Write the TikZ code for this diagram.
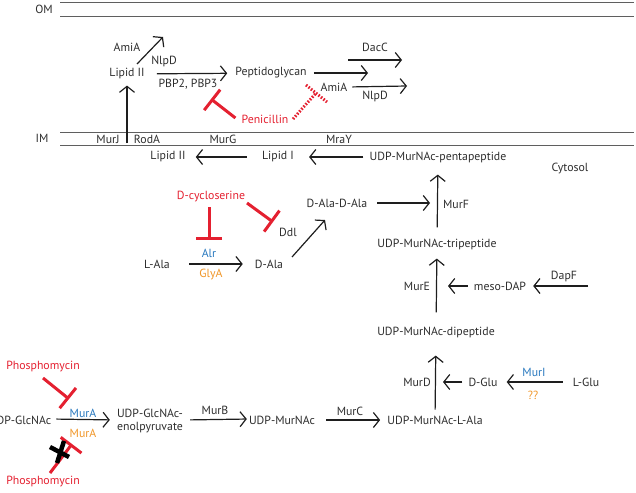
\documentclass[tikz,border=0pt]{standalone}
\usepackage{fontspec}
\setmainfont{PT Sans}
\usetikzlibrary{arrows.meta}
\definecolor{txt}{RGB}{45,45,45}
\definecolor{arrc}{RGB}{30,30,30}
\definecolor{memg}{RGB}{95,95,95}
\definecolor{inhred}{RGB}{228,32,48}
\definecolor{enzblue}{RGB}{40,120,190}
\definecolor{enzorange}{RGB}{240,150,40}
\tikzset{
  lbl/.style={inner sep=0pt, text=txt, font=\fontsize{11.8}{13}\selectfont},
  redlbl/.style={lbl, text=inhred},
  bluelbl/.style={lbl, text=enzblue},
  orangelbl/.style={lbl, text=enzorange},
  arr/.style={draw=arrc, line width=1.2pt, -{Straight Barb[length=6pt,width=15pt,line width=1.2pt]}},
  inh/.style={draw=inhred, line width=3pt, -{Bar[width=26pt,line width=3pt]}},
  inhbar/.style={draw=inhred, line width=3pt},
  mem/.style={draw=memg, line width=0.9pt},
}
\begin{document}
\begin{tikzpicture}[x=1pt,y=-1pt]
\useasboundingbox (0,0) rectangle (636,492);
% membranes
\draw[mem] (60,2) -- (634,2);
\draw[mem] (60,16) -- (634,16);
\draw[mem] (60,132) -- (634,132);
\draw[mem] (60,145) -- (634,145);
\node[lbl] (om) at (44,9) {OM};
\node[lbl] (im) at (42,138) {IM};
\node[lbl] (murj) at (108,139) {MurJ};
\node[lbl] (roda) at (147,139) {RodA};
\node[lbl] (murg) at (223,139) {MurG};
\node[lbl] (mray) at (339,139) {MraY};
% periplasm
\node[lbl] (lipIIa) at (127,74) {Lipid II};
\node[lbl] (amia1) at (127,47) {AmiA};
\node[lbl] (nlpd1) at (164,61) {NlpD};
\node[lbl] (pg) at (271,73) {Peptidoglycan};
\node[lbl] (pbp) at (188,84) {PBP2, PBP3};
\node[redlbl] (pen) at (265,119) {Penicillin};
\node[lbl] (dacc) at (375,47) {DacC};
\node[lbl] (amia2) at (334,87) {AmiA};
\node[lbl] (nlpd2) at (375,96) {NlpD};
\coordinate (flipS) at (127,143);
\coordinate (dgS) at (137,64);
\coordinate (dgE) at (163,37);
\coordinate (pgE) at (368,73);
\coordinate (dcS) at (348,60);
\coordinate (dcE) at (402,60);
\coordinate (amE) at (407,86);
\coordinate (penT) at (211,99);
\coordinate (dashS) at (293,119);
\coordinate (dashT) at (316,93);
\coordinate (dashB1) at (306,85);
\coordinate (dashB2) at (327,102);
\draw[arr] (flipS) -- ([yshift=-6pt]lipIIa.south);
\draw[arr] (dgS) -- (dgE);
\draw[arr, shorten <=12pt, shorten >=8pt] (lipIIa) -- (pg);
\draw[arr, shorten <=7pt] (pg.east) -- (pgE);
\draw[arr] (dcS) -- (dcE);
\draw[arr, shorten <=5pt] (amia2.east) -- (amE);
\draw[inh] ([xshift=-6pt,yshift=1pt]pen.west) -- (penT);
\draw[inhbar, dash pattern=on 1.6pt off 1.6pt] (dashS) -- (dashT);
\draw[inhbar, dash pattern=on 1.6pt off 1.6pt] (dashB1) -- (dashB2);
% cytosol
\node[lbl] (lipIIb) at (168,157) {Lipid II};
\node[lbl] (lipI) at (278,157) {Lipid I};
\node[lbl] (penta) at (438,157) {UDP-MurNAc-pentapeptide};
\node[lbl] (cyto) at (570,169) {Cytosol};
\draw[arr, shorten <=15pt, shorten >=10pt] (lipI) -- (lipIIb);
\draw[arr, shorten <=6pt, shorten >=15pt] (penta) -- (lipI);
\node[redlbl] (dcyc) at (211,197) {D-cycloserine};
\node[bluelbl] (alr) at (209,253) {Alr};
\node[orangelbl] (glya) at (211,275) {GlyA};
\node[lbl] (ddl) at (288,232) {Ddl};
\node[lbl] (lala) at (157,264) {L-Ala};
\node[lbl] (dala) at (269,264) {D-Ala};
\node[lbl] (dada) at (337,203) {D-Ala-D-Ala};
\node[lbl] (murf) at (456,204) {MurF};
\node[lbl] (tri) at (437,244) {UDP-MurNAc-tripeptide};
\node[lbl] (mure) at (417,286) {MurE};
\node[lbl] (mdap) at (500,286) {meso-DAP};
\node[lbl] (dapf) at (564,276) {DapF};
\node[lbl] (di) at (436,332) {UDP-MurNAc-dipeptide};
\coordinate (dcS1) at (209,207);
\coordinate (dcT1) at (209,240);
\coordinate (dcS2) at (247,203);
\coordinate (dcT2) at (273,222);
\draw[inh] (dcS1) -- (dcT1);
\draw[inh] (dcS2) -- (dcT2);
\draw[arr, shorten <=19pt, shorten >=12pt] (lala) -- (dala);
\coordinate (daS) at (292,257);
\coordinate (daE) at (325,220);
\draw[arr] (daS) -- (daE);
\coordinate (dadaE) at (430,203);
\draw[arr, shorten <=10pt] (dada.east) -- (dadaE);
\draw[arr, shorten <=11pt, shorten >=12pt] (tri) -- (penta);
\draw[arr, shorten <=14pt, shorten >=9pt] (di) -- (tri);
\coordinate (mdapE) at (448,286);
\coordinate (dapS) at (588,286);
\draw[arr, shorten <=6pt] (mdap.west) -- (mdapE);
\draw[arr, shorten >=7pt] (dapS) -- (mdap.east);
% bottom row
\node[lbl] (glcnac) at (20,420) {UDP-GlcNAc};
\node[bluelbl] (mura1) at (83,413) {MurA};
\node[orangelbl] (mura2) at (83,433) {MurA};
\node[lbl, align=center] (enol) at (150,421) {UDP-GlcNAc-\\enolpyruvate};
\node[lbl] (murb) at (215,410) {MurB};
\node[lbl] (umurnac) at (282,420) {UDP-MurNAc};
\node[lbl] (murc) at (350,411) {MurC};
\node[lbl] (lala2) at (435,420) {UDP-MurNAc-L-Ala};
\node[lbl] (murd) at (417,382) {MurD};
\node[lbl] (dglu) at (483,382) {D-Glu};
\node[bluelbl] (muri) at (534,372) {MurI};
\node[orangelbl] (qq) at (533,395) {??};
\node[lbl] (lglu) at (586,382) {L-Glu};
\node[redlbl] (phos1) at (43,367) {Phosphomycin};
\node[redlbl] (phos2) at (43,482) {Phosphomycin};
\draw[arr, shorten <=5pt, shorten >=7pt] ([yshift=1pt]glcnac.east) -- ([yshift=1pt]enol.west);
\draw[arr, shorten <=7pt, shorten >=2pt] ([yshift=1pt]enol.east) -- ([yshift=1pt]umurnac.west);
\draw[arr, shorten <=11pt, shorten >=7pt] (umurnac) -- (lala2);
\draw[arr, shorten <=6pt, shorten >=18pt] (lala2) -- (di);
\coordinate (dgluE) at (443,382);
\draw[arr, shorten <=6pt] (dglu.west) -- (dgluE);
\draw[arr, shorten <=10pt, shorten >=9pt] (lglu) -- (dglu);
\coordinate (ph1S) at (43,378);
\coordinate (ph1T) at (69,399);
\draw[inh] (ph1S) -- (ph1T);
\coordinate (ph2S) at (50,473);
\coordinate (ph2T) at (72,444);
\draw[inh] (ph2S) -- (ph2T);
\coordinate (xa1) at (50,447);
\coordinate (xa2) at (69,457);
\coordinate (xb1) at (64,441);
\coordinate (xb2) at (57,463);
\draw[black, line width=4.5pt] (xa1) -- (xa2);
\draw[black, line width=4.5pt] (xb1) -- (xb2);
\end{tikzpicture}
\end{document}
